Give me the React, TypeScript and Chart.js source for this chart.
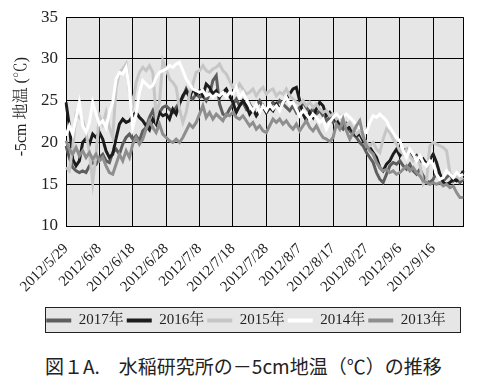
import React, { useEffect, useRef } from "react";
import { Chart, registerables } from "chart.js";

Chart.register(...registerables);

// Daily dates from 2012/5/29 (120 days)
const START_DATE = [2012, 5, 29];
const DAY_COUNT = 120;
const LABEL_EVERY = 10;

const seriesNames = ["2017年", "2016年", "2015年", "2014年", "2013年"];
const seriesColors = ["#5e5e5e", "#1c1c1c", "#c6c6c6", "#ffffff", "#8e8e8e"];

const y2017 = [
  19.6, 18.2, 17, 16.6, 16.4, 16.6, 16.4, 17.2, 17.6, 17.4,
  18.2, 18.6, 17.8, 17.6, 18.8, 19.2, 18.6, 19.8, 20.6, 21,
  20.4, 20.8, 20.2, 21.4, 21.8, 23, 23.8, 22.6, 23.6, 24.2,
  24.4, 24, 23.6, 24.2, 24.8, 25.4, 26.4, 25.6, 25.2, 25.8,
  25.4, 25.6, 25, 25.8, 27.4, 28, 24.6, 23.4, 23.2, 24,
  24.6, 25.2, 24.4, 24.8, 24, 24.6, 23.8, 24.4, 25, 24.2,
  23.6, 24.2, 24.8, 24.4, 25, 24.6, 24.2, 23.8, 24.4, 23.6,
  24.2, 24.8, 24.2, 23.6, 24, 23.4, 23.8, 23.2, 22.6, 23,
  22.4, 22.8, 22, 21.6, 22.2, 21.4, 21, 20.6, 20, 19.6,
  18.8, 18.2, 17.6, 16.4, 15.6, 15.2, 16.2, 17.2, 17.6, 17.4,
  17.8, 17.2, 16.8, 17.4, 16.6, 16.2, 16.8, 16, 15.4, 15.2,
  15.6, 16.4, 16.2, 15.4, 15.8, 16.2, 15.4, 15.8, 15.2, 15.6,
];

const y2016 = [
  24.8, 22, 18, 17.2, 17.8, 20, 20.5, 19.8, 21, 20.6,
  21.2, 20.4, 19, 18.2, 18.6, 20.5, 22.2, 22.8, 22.4, 22.6,
  23.2, 23.6, 23, 22.6, 22, 21.5, 22.8, 22.2, 23.6, 23.2,
  23.4, 22.8, 24, 23.4, 24.6, 25.6, 26.2, 25.4, 26.4, 25.8,
  26.2, 25.6, 27, 26.6, 25.8, 26.2, 25.4, 26, 26.4, 25.6,
  24.8, 23.6, 24.4, 25, 24.4, 23.4, 24, 23.2, 23.8, 24.4,
  23.6, 24.2, 23.8, 24.6, 24, 24.8, 25.2, 25.8, 26.4, 26.6,
  25, 23.4, 22.6, 23.6, 23, 24, 24.8, 24.4, 23.2, 23.6,
  23, 22.6, 22, 22.4, 21.6, 21.8, 21.2, 20.8, 21, 20.2,
  19.8, 19.4, 18.8, 18.2, 17, 16.6, 17.4, 17.8, 18.6, 19.2,
  18.4, 19, 19.2, 18.6, 18, 18.4, 17.6, 18, 17.4, 18,
  18.6, 17.6, 16.2, 15.2, 15, 15.2, 15.6, 15.4, 15.8, 16.6,
];

const y2015 = [
  17, 16.6, 19.4, 23.4, 23, 22.6, 21.2, 18.8, 15.2, 18.6,
  23.2, 22.2, 23.6, 21.8, 20.6, 26.6, 28.4, 28.8, 29.4, 26.2,
  24.6, 27.2, 28.4, 29, 28.6, 29.2, 28.4, 23.2, 24.8, 29.8,
  28.8, 27.6, 27.2, 26.6, 24, 22.4, 23.6, 25.8, 27, 28.4,
  28.6, 29.2, 28.6, 28.4, 28.8, 29, 29.4, 28.6, 28.2, 27.4,
  26.6, 26.2, 27, 26.4, 25.8, 26, 26.4, 25.6, 26.2, 26.6,
  25.8, 26.2, 26.4, 25.6, 26, 25.8, 26.4, 25.6, 25.2, 24.8,
  24.6, 25, 24.4, 24.8, 24.2, 24.6, 24, 23.6, 23.8, 23.2,
  23.4, 22.8, 23.2, 22.6, 22, 22.4, 21.6, 21, 21.4, 20.6,
  20, 19.6, 20, 19.2, 18.8, 20.4, 21.6, 21.2, 20.4, 19.8,
  19, 18.6, 19.2, 18.4, 17.8, 18.2, 17.4, 15, 15.4, 19.6,
  20, 19.8, 19.6, 19.4, 19, 16.4, 15.8, 16, 15.6, 15.8,
];

const y2014 = [
  20.8, 22, 21, 23, 24.8, 22, 21.2, 22.4, 24.8, 23.4,
  22.2, 22.6, 21.8, 23.6, 24.8, 27.6, 28.4, 28.2, 29, 26.4,
  21.8, 23.4, 26, 27.4, 27, 26.6, 26.8, 27.8, 28.4, 28.6,
  28.8, 29.2, 29, 29.4, 29.6, 28.6, 27.6, 27, 26.4, 26.2,
  26, 26.2, 25.6, 25.8, 25.4, 25.8, 25.6, 26, 25.4, 26,
  25.8, 26.6, 25.4, 26, 25.2, 24.4, 23.8, 24.6, 23.6, 24.4,
  23.8, 24.6, 24, 24.4, 23.8, 24.8, 25.4, 24.6, 24.8, 24,
  23.2, 23.8, 23.4, 22.8, 23.4, 23, 22.4, 22.8, 21.6, 22.4,
  23, 23.4, 23, 23.2, 23.4, 23, 22.6, 22.2, 21.8, 21.4,
  21.2, 22.4, 23.2, 23, 23.4, 23, 22.6, 21.8, 21.2, 20.6,
  20.2, 19, 18.2, 19.2, 18.6, 17.8, 18.4, 17.6, 17.2, 17.8,
  17.4, 16.2, 15.6, 15.8, 16.6, 16.2, 15.8, 16.4, 16, 16.2,
];

const y2013 = [
  20.2, 19.2, 18.6, 19.4, 18.4, 19, 18.2, 18.8, 18, 18.6,
  17.8, 18.2, 17.2, 16.4, 16.2, 17.4, 18.6, 17.8, 19, 18.2,
  19.8, 20.6, 19.8, 20.4, 21.6, 22.6, 21.8, 21.2, 22.2, 21,
  20.6, 20.2, 20, 20.4, 20, 20.6, 21.4, 22.2, 21.8, 22.4,
  23.4, 24.4, 23, 23.6, 22.8, 23.4, 23, 22.6, 23.4, 23.2,
  23.6, 23, 22.8, 23.2, 22.6, 22, 22.4, 21.6, 22, 21.4,
  21.2, 22, 22.8, 22.4, 22.8, 22.2, 22.6, 22, 21.6, 22.2,
  21.4, 22, 22.6, 21.8, 21.4, 22, 21.2, 20.6, 20.4, 20.1,
  20.6, 22.2, 21.6, 22.8, 21.4, 20.4, 21.2, 22, 22.6, 20.8,
  19.6, 19, 18.6, 17.6, 17, 16.6, 16.8, 16.4, 16.6, 16.2,
  16.4, 16.8, 17.2, 16.6, 17, 16.4, 16, 15.4, 15.2, 15,
  15.2, 15, 15.2, 14.8, 15, 14.6, 14.8, 14, 13.4, 13.4,
];

const seriesValues = [y2017, y2016, y2015, y2014, y2013];

const yMin = 10;
const yMax = 35;
const yStep = 5;

const yTitle = "-5cm 地温 (℃)";
const caption = "図１A.　水稲研究所の－5cm地温（℃）の推移";

function buildDateLabels(): string[] {
  const out: string[] = [];
  const d = new Date(START_DATE[0], START_DATE[1] - 1, START_DATE[2]);
  for (let i = 0; i < DAY_COUNT; i++) {
    out.push(`${d.getFullYear()}/${d.getMonth() + 1}/${d.getDate()}`);
    d.setDate(d.getDate() + 1);
  }
  return out;
}

const SERIF = "'Liberation Serif', 'Noto Serif CJK JP', 'Noto Sans CJK JP', serif";
const LEGEND_SHIFT = 6;

const plotBg = {
  id: "plotBg",
  beforeDraw(chart: any) {
    const { ctx, chartArea } = chart;
    if (!chartArea) return;
    ctx.save();
    ctx.fillStyle = "#e6e6e6";
    ctx.fillRect(chartArea.left, chartArea.top, chartArea.right - chartArea.left, chartArea.bottom - chartArea.top);
    ctx.restore();
  },
};

const yTitlePlugin = {
  id: "yTitlePlugin",
  afterDraw(chart: any) {
    const { ctx, chartArea } = chart;
    if (!chartArea) return;
    ctx.save();
    ctx.translate(chartArea.left - 44, (chartArea.top + chartArea.bottom) / 2 - 15);
    ctx.rotate(-Math.PI / 2);
    ctx.textAlign = "center";
    ctx.textBaseline = "middle";
    ctx.fillStyle = "#222";
    ctx.font = `16px ${SERIF}`;
    ctx.fillText(yTitle, 0, 0);
    ctx.restore();
  },
};

// Framed grey background behind the legend; the legend itself is nudged right
const legendBox = {
  id: "legendBox",
  beforeDraw(chart: any) {
    const lg = chart.legend;
    if (!lg || !lg.legendHitBoxes || !lg.legendHitBoxes.length) return;
    const boxes = lg.legendHitBoxes;
    let l = Infinity, r = -Infinity, t = Infinity, b = -Infinity;
    for (const h of boxes) {
      l = Math.min(l, h.left);
      r = Math.max(r, h.left + h.width);
      t = Math.min(t, h.top);
      b = Math.max(b, h.top + h.height);
    }
    l += LEGEND_SHIFT;
    r += LEGEND_SHIFT;
    const ctx = chart.ctx;
    ctx.save();
    const x0 = Math.round(l - 7) + 0.5;
    const y0 = Math.round(t - 6) + 0.5;
    const w = Math.round(r - l + 15);
    const h = Math.round(b - t + 10);
    ctx.fillStyle = "#e6e6e6";
    ctx.fillRect(x0, y0, w, h);
    ctx.strokeStyle = "#222";
    ctx.lineWidth = 1;
    ctx.strokeRect(x0, y0, w, h);
    ctx.restore();
  },
  beforeDatasetsDraw() {},
};

const legendShift = {
  id: "legendShift",
  afterLayout(chart: any) {
    const lg = chart.legend;
    if (!lg) return;
    lg.left += LEGEND_SHIFT;
    lg.right += LEGEND_SHIFT;
  },
};

export default function App() {
  const ref = useRef<HTMLCanvasElement | null>(null);

  useEffect(() => {
    if (!ref.current) return;
    const labels = buildDateLabels();
    const n = seriesNames.length;
    const chart = new Chart(ref.current, {
      type: "line",
      data: {
        labels,
        datasets: seriesNames.map((name, i) => ({
          label: name,
          data: seriesValues[i],
          borderColor: seriesColors[i],
          backgroundColor: seriesColors[i],
          borderWidth: 3,
          pointRadius: 0,
          pointStyle: "line",
          tension: 0,
          fill: false,
          order: n - 1 - i,
        })),
      },
      plugins: [plotBg, legendBox, legendShift, yTitlePlugin],
      options: {
        animation: false,
        responsive: true,
        maintainAspectRatio: false,
        layout: { padding: { left: 0, right: 18, top: 0, bottom: 4 } },
        plugins: {
          tooltip: { enabled: false },
          legend: {
            position: "bottom",
            labels: {
              usePointStyle: true,
              pointStyle: "line",
              pointStyleWidth: 25,
              boxWidth: 25,
              padding: 3,
              color: "#222",
              font: { family: SERIF, size: 15 },
              sort: (a: any, b: any) => a.datasetIndex - b.datasetIndex,
              generateLabels: (c: any) =>
                Chart.defaults.plugins.legend.labels
                  .generateLabels(c)
                  .map((it: any) => ({ ...it, lineWidth: 4, pointStyle: "line" })),
            },
          },
        },
        scales: {
          x: {
            type: "category",
            offset: false,
            border: { color: "#000", width: 1 },
            grid: {
              drawTicks: false,
              lineWidth: 1,
              color: (ctx: any) =>
                ctx.index % LABEL_EVERY === 0 || ctx.index === DAY_COUNT - 1 ? "#000" : "rgba(0,0,0,0)",
            },
            ticks: {
              autoSkip: false,
              maxRotation: 45,
              minRotation: 45,
              padding: 14,
              color: "#222",
              font: { family: SERIF, size: 15 },
              callback: (_v: any, i: number) => (i % LABEL_EVERY === 0 ? labels[i] : ""),
            },
            afterFit: (scale: any) => {
              scale.height = 84;
            },
          },
          y: {
            min: yMin,
            max: yMax,
            border: { color: "#000", width: 1 },
            grid: { drawTicks: false, color: "#000", lineWidth: 1 },
            ticks: {
              stepSize: yStep,
              padding: 8,
              color: "#222",
              font: { family: SERIF, size: 17 },
            },
            afterFit: (scale: any) => {
              scale.width = 58;
            },
          },
        },
      },
    });
    return () => chart.destroy();
  }, []);

  return (
    <div style={{ width: 482 }}>
      <div style={{ position: "relative", height: 343, marginTop: -9 }}>
        <canvas ref={ref} />
      </div>
      <div
        style={{
          fontFamily: "'Noto Sans CJK JP', sans-serif",
          fontSize: 19,
          color: "#222",
          paddingLeft: 37,
          marginTop: 12,
          lineHeight: "24px",
          whiteSpace: "nowrap",
        }}
      >
        {caption}
      </div>
    </div>
  );
}
